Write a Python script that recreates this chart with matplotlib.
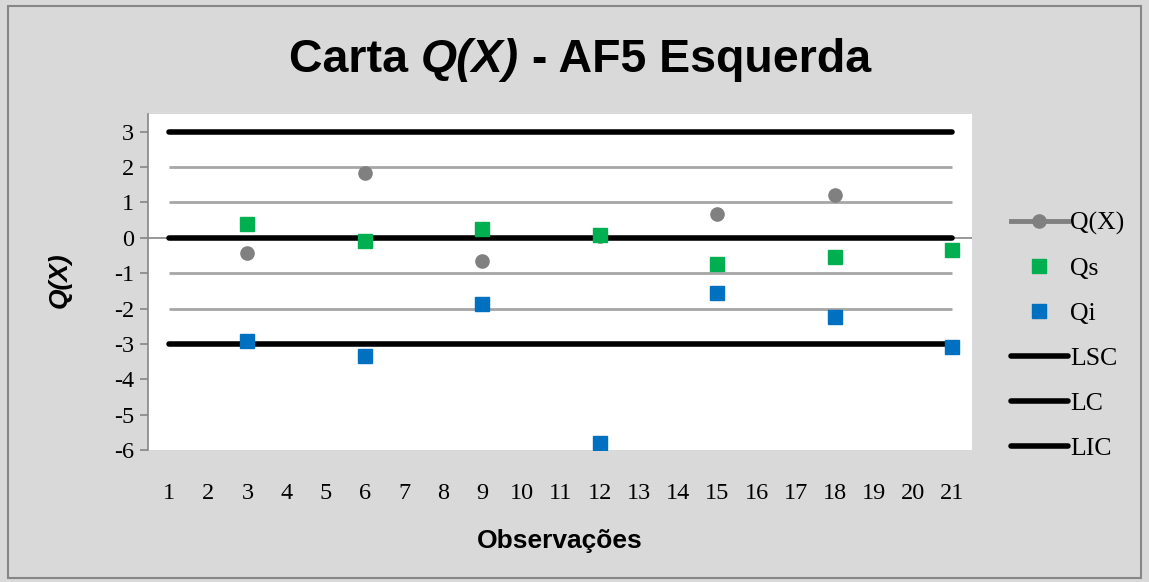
import matplotlib.pyplot as plt
import matplotlib.patches as mpatches
import numpy as np

plt.rcParams['axes.unicode_minus'] = False

nan = np.nan
obs = list(range(1, 22))
qx = [nan, nan, -0.43, nan, nan, 1.82, nan, nan, -0.67, nan, nan, 0.04,
      nan, nan, 0.68, nan, nan, 1.22, nan, nan, -0.34]
qs = [nan, nan, 0.40, nan, nan, -0.08, nan, nan, 0.25, nan, nan, 0.08,
      nan, nan, -0.75, nan, nan, -0.54, nan, nan, -0.35]
qi = [nan, nan, -2.92, nan, nan, -3.33, nan, nan, -1.86, nan, nan, -5.81,
      nan, nan, -1.55, nan, nan, -2.24, nan, nan, -3.08]
lsc = [3] * 21
lc = [0] * 21
lic = [-3] * 21
grid_levels = [2, 1, -1, -2]
title_parts = [('Carta ', 'normal'), ('Q(X)', 'italic'), (' - AF5 Esquerda', 'normal')]

bg = '#d9d9d9'
serif = 'Liberation Serif'
sans = 'Liberation Sans'
W, H = 1149, 582

fig = plt.figure(figsize=(W / 100, H / 100), dpi=100, facecolor=bg)
fig.patches.append(mpatches.Rectangle((8 / W, 4 / H), 1133 / W, 572 / H,
                                      transform=fig.transFigure, fill=False,
                                      edgecolor='#868686', lw=1.5))
ax = fig.add_axes([148 / W, 1 - 450 / H, 824 / W, 336 / H])
ax.set_facecolor('white')

for g in grid_levels:
    ax.plot(obs, [g] * 21, color='#a6a6a6', lw=2, zorder=1, solid_capstyle='butt')
ax.axhline(0, color='#868686', lw=1.2, zorder=1)

ax.plot(obs, lsc, color='black', lw=4, solid_capstyle='round', label='LSC', zorder=2)
ax.plot(obs, lc, color='black', lw=4, solid_capstyle='round', label='LC', zorder=2)
ax.plot(obs, lic, color='black', lw=4, solid_capstyle='round', label='LIC', zorder=2)

ax.plot(obs, qx, color='#808080', lw=3.5, marker='o', markersize=9.5, label='Q(X)', zorder=3)
ax.plot(obs, qs, ls='none', color='#00b050', marker='s', markersize=9.5, label='Qs', zorder=4)
ax.plot(obs, qi, ls='none', color='#0070c0', marker='s', markersize=9.5, label='Qi', zorder=4)

ax.set_xlim(0.46, 21.5)
ax.set_ylim(-6, 3.5)
ax.set_yticks(range(-6, 4))
ax.set_xticks(obs)
for s in ['top', 'right', 'bottom']:
    ax.spines[s].set_visible(False)
ax.spines['left'].set_color('#868686')
ax.spines['left'].set_linewidth(1.2)
ax.tick_params(axis='y', length=6, color='#868686', width=1.2, labelsize=17.5, pad=4)
ax.tick_params(axis='x', length=0, labelsize=17.5, pad=31)
for lab in ax.get_xticklabels() + ax.get_yticklabels():
    lab.set_fontfamily(serif)
for lab in ax.get_xticklabels():
    lab.set_va('center')

ax.set_xlabel('Observações', fontfamily=sans, fontweight='bold', fontsize=19, va='center')
ax.xaxis.set_label_coords(0.5, (450 - 541) / 336)
ax.set_ylabel('Q(X)', fontfamily=sans, fontweight='bold', fontstyle='italic', fontsize=19, va='center')
ax.yaxis.set_label_coords((60 - 148) / 824, (450 - 280) / 336)

# title in pieces so that Q(X) can be bold italic
fig.canvas.draw()
r = fig.canvas.get_renderer()
pieces = []
for txt, style in title_parts:
    t = fig.text(0, 1 - 72 / H, txt, ha='left', va='baseline', fontfamily=sans,
                 fontweight='bold', fontstyle=style, fontsize=33.5)
    pieces.append(t)
widths = [t.get_window_extent(r).width for t in pieces]
x = 580 - sum(widths) / 2
for t, w in zip(pieces, widths):
    t.set_x(x / W)
    x += w

handles, labels = ax.get_legend_handles_labels()
order = [labels.index(n) for n in ['Q(X)', 'Qs', 'Qi', 'LSC', 'LC', 'LIC']]
leg = fig.legend([handles[i] for i in order], [labels[i] for i in order],
                 loc='center left', bbox_to_anchor=(1011 / W, 1 - 336 / H),
                 frameon=False, prop={'family': serif, 'size': 18.5},
                 handlelength=2.2, handletextpad=0.1, labelspacing=0.86,
                 borderpad=0, borderaxespad=0)

fig.savefig('out.png', dpi=100, facecolor=bg)
